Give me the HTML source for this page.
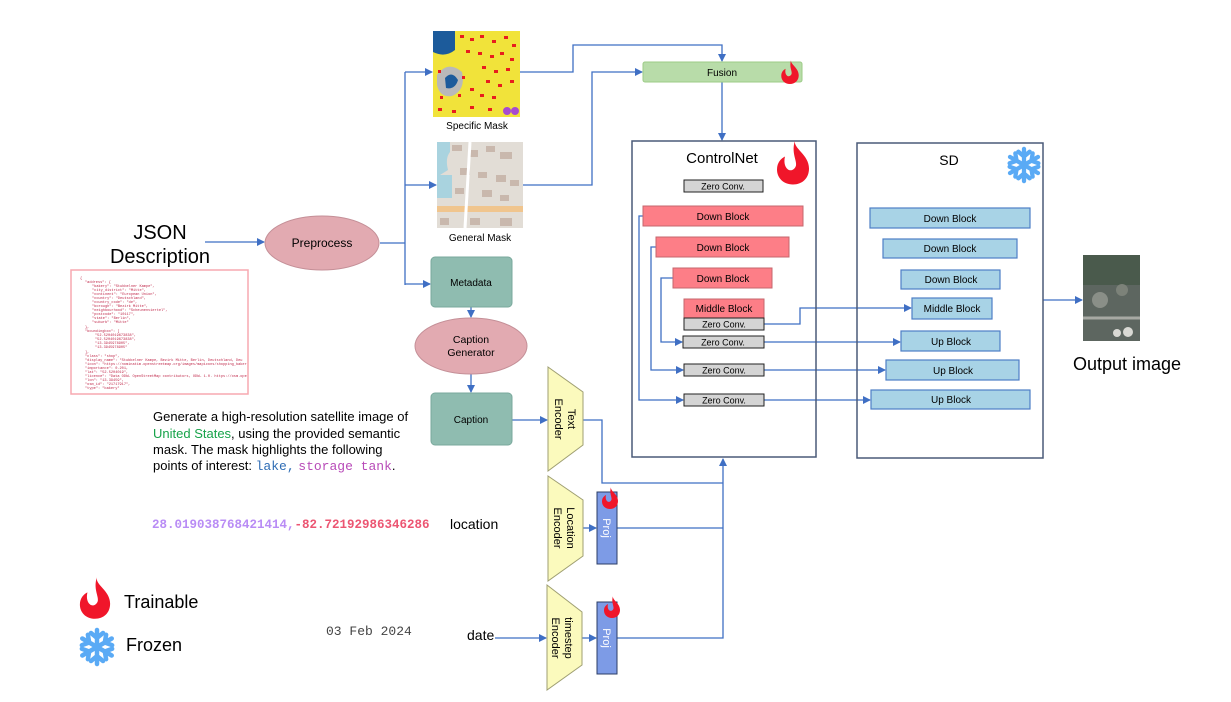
<!DOCTYPE html>
<html><head><meta charset="utf-8"><style>
html,body{margin:0;padding:0;background:#fff;}
svg{display:block;font-family:"Liberation Sans",Arial,sans-serif;}
</style></head><body>
<svg width="1231" height="702" viewBox="0 0 1231 702" xmlns="http://www.w3.org/2000/svg">
<defs>
<marker id="ar" markerWidth="8" markerHeight="8" refX="7" refY="4" orient="auto" markerUnits="userSpaceOnUse">
<path d="M0,0 L8,4 L0,8 z" fill="#3f6fc4"/></marker>
<symbol id="flame" viewBox="0 0 36 44">
<path fill="#f0162a" fill-rule="evenodd" d="M20 0 C18 8 34 14 34 28 C34 38 27 44 18 44 C8 44 2 37 2 29 C2 22 6 18 10 16 C9 20 9 26 13 29 C16 31 20 29 21 25 C22 20 16 12 20 0 Z"/>
</symbol>
<symbol id="snow" viewBox="-20 -20 40 40">
<g stroke="#5aaaf5" stroke-width="4.5" stroke-linecap="round" fill="none">
<g id="arm"><path d="M0 0 V-17 M-6 -14 L0 -9 L6 -14"/></g>
<use href="#arm" transform="rotate(60)"/><use href="#arm" transform="rotate(120)"/>
<use href="#arm" transform="rotate(180)"/><use href="#arm" transform="rotate(240)"/><use href="#arm" transform="rotate(300)"/>
</g>
</symbol>
<clipPath id="jc"><rect x="72" y="271" width="175" height="122"/></clipPath>
</defs>
<g fill="none" stroke="#3f6fc4" stroke-width="1.3">
<path d="M205 242 H264" marker-end="url(#ar)"/>
<path d="M380 243 H405"/>
<path d="M405 72 V285"/>
<path d="M405 72 H432" marker-end="url(#ar)"/>
<path d="M405 185 H436" marker-end="url(#ar)"/>
<path d="M405 284 H430" marker-end="url(#ar)"/>
<path d="M471 307 V317" marker-end="url(#ar)"/>
<path d="M471 374 V392" marker-end="url(#ar)"/>
<path d="M512 420 H547" marker-end="url(#ar)"/>
<path d="M520 72 H573 V45 H722 V61" marker-end="url(#ar)"/>
<path d="M523 185 H592 V72 H642" marker-end="url(#ar)"/>
<path d="M722 82 V140" marker-end="url(#ar)"/>
<path d="M583 420 H602 V483 H723"/>
<path d="M583 528 H596" marker-end="url(#ar)"/>
<path d="M582 638 H596" marker-end="url(#ar)"/>
<path d="M495 638 H546" marker-end="url(#ar)"/>
<path d="M617 528 H723"/>
<path d="M617 638 H723 V459" marker-end="url(#ar)"/>
<path d="M643 216 H639 V400 H683" marker-end="url(#ar)"/>
<path d="M656 247 H651 V370 H683" marker-end="url(#ar)"/>
<path d="M673 278 H661 V342 H682" marker-end="url(#ar)"/>
<path d="M764 324 H800 V308 H911" marker-end="url(#ar)"/>
<path d="M764 342 H900" marker-end="url(#ar)"/>
<path d="M764 370 H885" marker-end="url(#ar)"/>
<path d="M764 400 H870" marker-end="url(#ar)"/>
<path d="M1043 300 H1082" marker-end="url(#ar)"/>
</g>
<text x="160" y="239" font-size="20" text-anchor="middle">JSON</text>
<text x="160" y="263" font-size="20" text-anchor="middle">Description</text>
<rect x="71" y="270" width="177" height="124" fill="#fff" stroke="#f7a9b0" stroke-width="1.5"/>
<g font-family="Liberation Mono,monospace" font-size="3.6" fill="#c0284a" clip-path="url(#jc)">
<text x="80" y="279">{</text>
<text x="85" y="283">"address": {</text>
<text x="92" y="287">"bakery": "Stubbelner Kampe",</text>
<text x="92" y="291">"city_district": "Mitte",</text>
<text x="92" y="295">"continent": "European Union",</text>
<text x="92" y="299">"country": "Deutschland",</text>
<text x="92" y="303">"country_code": "de",</text>
<text x="92" y="307">"borough": "Bezirk Mitte",</text>
<text x="92" y="311">"neighbourhood": "Scheunenviertel",</text>
<text x="92" y="315">"postcode": "10117",</text>
<text x="92" y="319">"state": "Berlin",</text>
<text x="92" y="323">"suburb": "Mitte"</text>
<text x="85" y="328">},</text>
<text x="85" y="332">"boundingbox": [</text>
<text x="95" y="336">"52.5204019673838",</text>
<text x="95" y="340">"52.5204019673838",</text>
<text x="95" y="344">"13.3945978905",</text>
<text x="95" y="348">"13.3945978905"</text>
<text x="85" y="353">],</text>
<text x="85" y="357">"class": "shop",</text>
<text x="85" y="361">"display_name": "Stubbelner Kampe, Bezirk Mitte, Berlin, Deutschland, Deu</text>
<text x="85" y="365">"icon": "https://nominatim.openstreetmap.org/images/mapicons/shopping_bakery.p.20.png",</text>
<text x="85" y="369">"importance": 0.201,</text>
<text x="85" y="373">"lat": "52.5204019",</text>
<text x="85" y="377">"licence": "Data ODbL OpenStreetMap contributors, ODbL 1.0. https://osm.openstree</text>
<text x="85" y="381">"lon": "13.39459",</text>
<text x="85" y="385">"osm_id": "21717917",</text>
<text x="85" y="389">"type": "bakery"</text>
</g>
<ellipse cx="322" cy="243" rx="57" ry="27" fill="#e2aab1" stroke="#c48f97"/>
<text x="322" y="247" font-size="12" text-anchor="middle">Preprocess</text>
<rect x="433" y="31" width="87" height="86" fill="#f1e33a"/>
<path d="M433 31 H455 V50 Q445 58 433 52 Z" fill="#1c5b9b"/>
<path d="M437 75 Q448 60 462 72 Q466 90 452 96 Q440 98 437 85 Z" fill="#b9b9b9"/>
<path d="M445 78 Q452 70 458 80 Q455 90 446 88 Z" fill="#1c5b9b"/>
<g fill="#e81d1d">
<rect x="460" y="35" width="4" height="3"/><rect x="470" y="38" width="4" height="3"/><rect x="480" y="35" width="4" height="3"/><rect x="492" y="40" width="4" height="3"/><rect x="504" y="36" width="4" height="3"/><rect x="512" y="44" width="4" height="3"/>
<rect x="466" y="50" width="4" height="3"/><rect x="478" y="52" width="4" height="3"/><rect x="490" y="55" width="4" height="3"/><rect x="500" y="52" width="4" height="3"/><rect x="510" y="58" width="4" height="3"/>
<rect x="482" y="66" width="4" height="3"/><rect x="494" y="70" width="4" height="3"/><rect x="506" y="68" width="4" height="3"/><rect x="486" y="80" width="4" height="3"/><rect x="498" y="84" width="4" height="3"/><rect x="510" y="80" width="4" height="3"/>
<rect x="470" y="88" width="4" height="3"/><rect x="480" y="94" width="4" height="3"/><rect x="492" y="96" width="4" height="3"/><rect x="438" y="108" width="4" height="3"/><rect x="452" y="110" width="4" height="3"/><rect x="470" y="106" width="4" height="3"/><rect x="488" y="108" width="4" height="3"/>
<rect x="438" y="70" width="3" height="3"/><rect x="462" y="76" width="3" height="3"/><rect x="458" y="94" width="3" height="3"/><rect x="440" y="96" width="3" height="3"/>
</g>
<circle cx="507" cy="111" r="4" fill="#a74bd0"/><circle cx="515" cy="111" r="4" fill="#a74bd0"/>
<text x="477" y="129" font-size="10" text-anchor="middle">Specific Mask</text>
<rect x="437" y="142" width="86" height="86" fill="#e2ddd6"/>
<path d="M437 142 H450 V152 Q445 158 448 170 L440 175 H437 Z" fill="#a9d3df"/>
<path d="M437 175 H452 V198 H437 Z" fill="#a9d3df"/>
<g fill="#c9b8ad">
<rect x="452" y="145" width="10" height="6"/><rect x="468" y="150" width="10" height="7"/><rect x="486" y="146" width="9" height="6"/><rect x="500" y="152" width="12" height="7"/>
<rect x="460" y="168" width="10" height="7"/><rect x="478" y="172" width="9" height="6"/><rect x="496" y="175" width="10" height="7"/><rect x="510" y="180" width="9" height="6"/>
<rect x="455" y="188" width="9" height="6"/><rect x="482" y="190" width="10" height="7"/><rect x="500" y="195" width="9" height="6"/>
<rect x="440" y="218" width="9" height="7"/><rect x="470" y="218" width="10" height="7"/><rect x="500" y="218" width="12" height="8"/>
</g>
<rect x="437" y="206" width="86" height="6" fill="#f0c58e"/>
<path d="M470 142 L465 228" stroke="#fff" stroke-width="3"/>
<text x="480" y="241" font-size="10" text-anchor="middle">General Mask</text>
<rect x="431" y="257" width="81" height="50" rx="4" fill="#8fbcb0" stroke="#7aa99c"/>
<text x="471" y="286" font-size="10" text-anchor="middle">Metadata</text>
<ellipse cx="471" cy="346" rx="56" ry="28" fill="#e2aab1" stroke="#c48f97"/>
<text x="471" y="343" font-size="10.5" text-anchor="middle">Caption</text>
<text x="471" y="356" font-size="10.5" text-anchor="middle">Generator</text>
<rect x="431" y="393" width="81" height="52" rx="4" fill="#8fbcb0" stroke="#7aa99c"/>
<text x="471" y="423" font-size="10" text-anchor="middle">Caption</text>
<g font-size="13">
<text x="153" y="421">Generate a high-resolution satellite image of</text>
<text x="153" y="438"><tspan fill="#17a34a">United States</tspan>, using the provided semantic</text>
<text x="153" y="454">mask. The mask highlights the following</text>
<text x="153" y="470">points of interest: <tspan font-family="Liberation Mono,monospace" fill="#2f6db5">lake,</tspan> <tspan font-family="Liberation Mono,monospace" fill="#b84bb8">storage tank</tspan>.</text>
</g>
<text x="152" y="528" font-size="12.5" font-family="Liberation Mono,monospace" font-weight="bold"><tspan fill="#b98cf5">28.019038768421414,</tspan><tspan fill="#ec5572">-82.72192986346286</tspan></text>
<text x="450" y="529" font-size="14">location</text>
<text x="326" y="635" font-size="13" font-family="Liberation Mono,monospace" fill="#444">03 Feb 2024</text>
<text x="467" y="640" font-size="14">date</text>
<path d="M548 367 L583 392 L583 445 L548 471 Z" fill="#fbfabd" stroke="#9f9f72"/>
<text transform="translate(568,419) rotate(90)" font-size="11" text-anchor="middle">Text</text>
<text transform="translate(568,419) rotate(90)" font-size="11" text-anchor="middle" dy="13">Encoder</text>
<path d="M548 476 L583 500 L583 556 L548 581 Z" fill="#fbfabd" stroke="#9f9f72"/>
<text transform="translate(567,528) rotate(90)" font-size="11" text-anchor="middle">Location</text>
<text transform="translate(567,528) rotate(90)" font-size="11" text-anchor="middle" dy="13">Encoder</text>
<path d="M547 585 L582 612 L582 665 L547 690 Z" fill="#fbfabd" stroke="#9f9f72"/>
<text transform="translate(565,638) rotate(90)" font-size="11" text-anchor="middle">timestep</text>
<text transform="translate(565,638) rotate(90)" font-size="11" text-anchor="middle" dy="13">Encoder</text>
<rect x="597" y="492" width="20" height="72" fill="#7d9be6" stroke="#2c3e66"/>
<text transform="translate(603,528) rotate(90)" font-size="11" fill="#fff" text-anchor="middle">Proj</text>
<rect x="597" y="602" width="20" height="72" fill="#7d9be6" stroke="#2c3e66"/>
<text transform="translate(603,638) rotate(90)" font-size="11" fill="#fff" text-anchor="middle">Proj</text>
<use href="#flame" x="601" y="487" width="18" height="22"/>
<use href="#flame" x="603" y="596" width="18" height="22"/>
<rect x="643" y="62" width="159" height="20" rx="2" fill="#b8dca9" stroke="#9ccb86"/>
<text x="722" y="76" font-size="10" text-anchor="middle">Fusion</text>
<use href="#flame" x="780" y="60" width="20" height="24"/>
<rect x="632" y="141" width="184" height="316" fill="none" stroke="#4a5a78" stroke-width="1.5"/>
<text x="722" y="163" font-size="15" text-anchor="middle">ControlNet</text>
<use href="#flame" x="775" y="140" width="36" height="45"/>
<g font-size="9" text-anchor="middle">
<rect x="684" y="180" width="79" height="12" fill="#d4d4d4" stroke="#222"/><text x="723" y="189.5">Zero Conv.</text>
<rect x="643" y="206" width="160" height="20" fill="#fd7e87" stroke="#c5676e"/><text x="723" y="220" font-size="10">Down Block</text>
<rect x="656" y="237" width="133" height="20" fill="#fd7e87" stroke="#c5676e"/><text x="723" y="251" font-size="10">Down Block</text>
<rect x="673" y="268" width="99" height="20" fill="#fd7e87" stroke="#c5676e"/><text x="723" y="282" font-size="10">Down Block</text>
<rect x="684" y="299" width="80" height="19" fill="#fd7e87" stroke="#c5676e"/><text x="724" y="312" font-size="10">Middle Block</text>
<rect x="684" y="318" width="80" height="12" fill="#d4d4d4" stroke="#222"/><text x="724" y="327.5">Zero Conv.</text>
<rect x="683" y="336" width="81" height="12" fill="#d4d4d4" stroke="#222"/><text x="723" y="345.5">Zero Conv.</text>
<rect x="684" y="364" width="80" height="12" fill="#d4d4d4" stroke="#222"/><text x="724" y="373.5">Zero Conv.</text>
<rect x="684" y="394" width="80" height="12" fill="#d4d4d4" stroke="#222"/><text x="724" y="403.5">Zero Conv.</text>
</g>
<rect x="857" y="143" width="186" height="315" fill="none" stroke="#4a5a78" stroke-width="1.5"/>
<text x="949" y="165" font-size="14" text-anchor="middle">SD</text>
<use href="#snow" x="1005" y="146" width="38" height="38"/>
<g font-size="10" text-anchor="middle" stroke-width="1.2">
<rect x="870" y="208" width="160" height="20" fill="#a8d3e6" stroke="#4e7fc6"/><text x="950" y="222">Down Block</text>
<rect x="883" y="239" width="134" height="19" fill="#a8d3e6" stroke="#4e7fc6"/><text x="950" y="252">Down Block</text>
<rect x="901" y="270" width="99" height="19" fill="#a8d3e6" stroke="#4e7fc6"/><text x="951" y="283">Down Block</text>
<rect x="912" y="298" width="80" height="21" fill="#a8d3e6" stroke="#4e7fc6"/><text x="952" y="312">Middle Block</text>
<rect x="901" y="331" width="99" height="20" fill="#a8d3e6" stroke="#4e7fc6"/><text x="951" y="345">Up Block</text>
<rect x="886" y="360" width="133" height="20" fill="#a8d3e6" stroke="#4e7fc6"/><text x="953" y="374">Up Block</text>
<rect x="871" y="390" width="159" height="19" fill="#a8d3e6" stroke="#4e7fc6"/><text x="951" y="403">Up Block</text>
</g>
<rect x="1083" y="255" width="57" height="86" fill="#5d6660"/>
<rect x="1083" y="255" width="57" height="30" fill="#4a5a4c"/>
<path d="M1083 318 H1140" stroke="#a7a9a3" stroke-width="3"/>
<circle cx="1100" cy="300" r="8" fill="#8a8f88"/><circle cx="1122" cy="290" r="6" fill="#7c8279"/>
<circle cx="1128" cy="332" r="5" fill="#d9d9d4"/><circle cx="1117" cy="333" r="4" fill="#d9d9d4"/>
<text x="1127" y="370" font-size="18" text-anchor="middle">Output image</text>
<use href="#flame" x="78" y="577" width="34" height="42"/>
<text x="124" y="608" font-size="18">Trainable</text>
<use href="#snow" x="77" y="627" width="40" height="40"/>
<text x="126" y="651" font-size="18">Frozen</text>
</svg>
</body></html>
